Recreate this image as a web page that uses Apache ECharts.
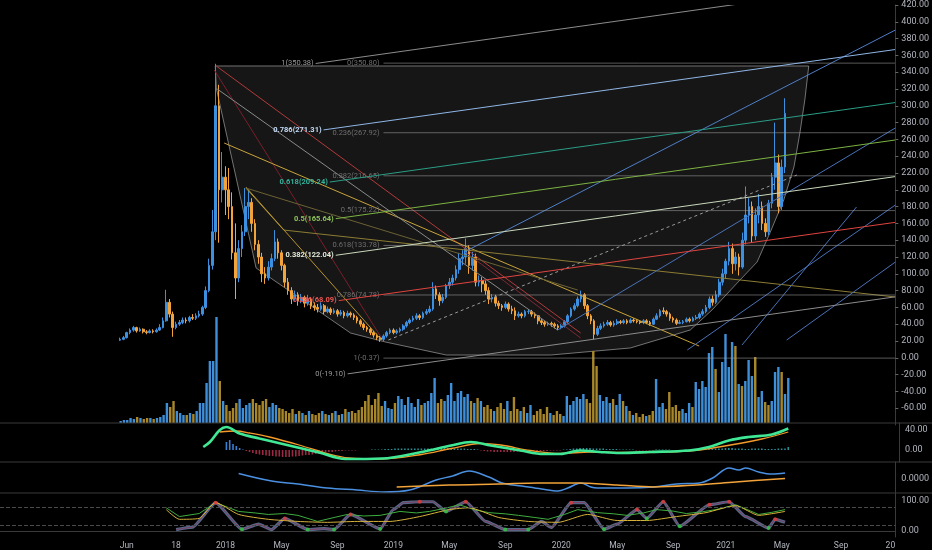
<!DOCTYPE html>
<html>
<head>
<meta charset="utf-8">
<script src="https://cdn.jsdelivr.net/npm/echarts@6/dist/echarts.min.js"></script>
<style>
  html, body { margin: 0; padding: 0; background: #000; }
  #chart { width: 932px; height: 550px; }
</style>
</head>
<body>
<div id="chart"></div>
<script>
// weekly candles; the first candle sits at slot LEAD of the time axis
const LEAD = 36;
const SLOTS = 272;
const firstOpen = 21;

const closes = [
  22,24,30,33,36,32,34,31,30,32,
  31,33,36,44,66,52,36,40,42,45,
  44,48,47,50,52,60,80,110,150,300,
  200,215,200,180,125,95,130,150,180,185,
  160,135,120,100,95,108,118,138,125,110,
  90,80,70,75,68,72,65,70,62,60,
  58,62,55,58,54,56,52,54,50,53,
  51,48,44,40,36,34,30,27,24,22,
  26,30,33,30,32,34,38,42,45,47,
  50,48,53,55,58,82,75,68,72,86,
  90,95,105,118,120,130,110,120,90,92,
  88,80,70,72,65,62,60,64,58,56,
  50,52,50,55,55,52,50,44,42,40,
  41,40,38,36,38,43,50,58,62,70,
  75,62,50,44,28,35,38,40,42,39,
  41,43,42,44,42,45,44,43,42,44,
  42,40,46,50,56,55,52,47,45,41,
  42,43,46,44,47,48,52,55,60,70,
  66,75,90,100,115,130,112,120,108,140,
  170,180,145,170,180,160,150,184,215,232,
  180,227,291
];
const highs = [
  24,26,31,35,38,37,36,35,33,34,
  34,35,40,48,81,70,55,43,45,48,
  48,50,52,53,56,62,85,118,176,350,
  325,245,228,226,197,160,140,158,202,200,
  190,165,140,125,108,115,124,152,142,128,
  112,95,84,80,78,76,74,75,72,66,
  64,66,64,61,60,59,58,57,56,56,
  55,53,50,46,42,38,36,32,29,26,
  28,32,35,35,34,36,40,44,47,50,
  53,52,55,58,62,90,86,78,76,88,
  95,99,110,125,128,142,134,126,124,98,
  96,92,84,76,75,68,64,67,66,62,
  60,55,54,57,58,57,54,51,46,44,
  43,43,42,40,40,45,52,60,65,73,
  80,77,64,52,46,38,41,43,45,44,
  44,46,45,46,46,47,47,46,45,46,
  46,44,48,53,58,60,57,54,49,47,
  45,45,48,48,49,51,54,58,63,73,
  74,80,94,106,118,138,136,126,124,149,
  204,190,186,178,195,186,166,188,220,280,
  242,236,309
];
const lows = [
  20,21,23,28,31,30,31,29,28,29,
  29,30,32,35,43,48,25,34,38,40,
  41,42,45,45,48,50,58,78,105,140,
  137,185,170,165,117,70,90,120,145,165,
  150,128,112,90,88,92,104,115,118,104,
  84,75,64,68,62,65,60,62,58,56,
  54,56,52,53,51,52,49,50,47,48,
  48,45,41,37,33,31,27,24,21,19,
  20,24,28,28,28,30,32,36,40,43,
  45,45,46,51,53,56,70,62,65,70,
  82,86,92,100,110,112,100,104,85,85,
  78,75,64,66,61,58,56,58,55,52,
  45,48,47,48,52,49,47,40,39,37,
  38,37,35,33,34,36,41,48,56,60,
  66,58,46,40,22,26,33,36,38,37,
  37,39,40,40,40,41,42,41,40,40,
  40,38,39,45,48,52,49,44,42,39,
  40,40,42,42,43,45,46,50,53,58,
  62,64,72,86,94,110,100,104,98,106,
  135,160,137,140,160,152,144,146,178,200,
  172,176,220
];
const volumes = [
  2,3,3,5,4,6,5,4,5,5,
  4,5,6,8,20,16,22,12,10,8,
  8,10,9,12,20,20,40,62,62,106,
  42,22,18,12,15,20,24,15,18,20,
  24,20,18,22,24,16,20,18,15,14,
  12,10,14,9,12,10,8,12,9,8,
  10,12,9,8,10,12,8,9,14,11,
  12,10,13,16,22,28,18,24,30,17,
  22,15,14,20,27,24,18,26,20,16,
  24,18,20,22,30,45,20,24,22,28,
  40,22,30,32,26,29,22,20,25,22,
  16,18,14,12,16,20,14,22,12,26,
  14,12,16,10,18,8,12,14,9,16,
  10,8,12,9,7,27,18,22,26,24,
  29,24,20,72,57,28,22,26,20,24,
  18,29,22,17,12,8,10,6,9,7,
  8,12,44,16,20,14,31,16,18,12,
  14,10,20,16,41,34,42,36,70,76,
  54,31,61,89,56,81,77,39,37,42,
  63,47,66,26,32,21,18,22,51,56,
  51,29,45
];

// MACD histogram, one bar per week starting at week 32
const histFirstWeek = 32;
const macdHist = [
  16,20,12,8,4,1,
  -2,-4,-6,-8,-9,-10,-11,-12,-12,-13,-13,-14,-14,
  -14,-13,-13,-12,-11,-10,-10,-9,-8,-7,-6,-5,-4,-4,-3,-2,-2,-1,
  -1,-1,-1,0,0,0,0,1,1,1,1,
  2,2,2,3,3,3,3,3,3,3,3,3,3,3,3,3,4,4,4,4,4,3,3,3,3,2,2,2,1,
  -1,-2,-3,-3,-4,-4,-4,-4,-4,-4,-4,-3,-3,-3,-3,-3,-2,-2,-2,-2,-2,-1,-1,-1,-1,
  1,1,2,3,3,4,4,4,4,3,3,3,3,2,2,2,2,
  1,1,1,1,1,-1,-1,-1,-1,-1,-1,1,1,1,1,1,-1,-1,-1,-1,1,1,1,1,1,
  2,2,2,3,3,3,3,4,4,4,3,3,3,2,2,3,3,3,3,2,2,2,2,3,3,3,6
];
const macdSlots  = [61,63,66,68,72,78,87,96,104,115,127,136,142,148,157,164,169,175,181,187,196,208,214,220,226,233,238];
const macdValues = [6,16,40,46,33,23,9,-5,-18,-17,-4,9,16,9,-1,-8,-8,-1,-4,-6,-4,-1,6,19,26,31,43];
const macdRisingSpans = [[66,70],[104,142],[172,178],[188,208],[213,238]];
const signalSlots  = [66,71,75,81,90,99,105,115,127,136,145,151,160,169,178,187,208,217,230,238];
const signalValues = [36,38,34,26,10,-8,-16,-18,-9,3,13,10,-1,-7,-4,-5,-2,6,22,36];

// middle pane
const midBlueSlots  = [72,82,90,99,108,116,124,132,137,142,148,152,158,164,169,172,176,179,181,190,198,205,212,216,221,224,226,230,234,238];
const midBlueValues = [0.0056,-0.002,-0.005,-0.009,-0.011,-0.013,-0.011,-0.001,0.003,0.008,0.002,-0.004,-0.007,-0.010,-0.012,-0.009,-0.004,-0.008,-0.009,-0.009,-0.008,-0.005,-0.004,0.001,0.011,0.009,0.011,0.007,0.005,0.006];
const midOrangeSlots  = [120,136,151,163,175,187,198,211,223,238];
const midOrangeValues = [-0.008,-0.006,-0.005,-0.004,-0.004,-0.006,-0.008,-0.006,-0.003,0.0005];

// stochastic pane
const stochSlots  = [53,58,65,73,78,82,86,93,98,101,106,115,119,122,127,131,135,141,147,153,160,164,167,173,177,183,187,193,196,201,206,215,221,226,233,235,238];
const stochValues = [5,13,94,6,23,5,42,5,8,5,55,7,71,94,97,97,65,97,32,5,5,32,12,94,94,6,23,71,42,97,16,87,97,48,10,39,29];
const rsiSlots  = [50,54,60,65,72,77,81,86,90,96,101,105,110,115,121,126,130,135,139,144,148,153,157,162,166,171,175,181,186,190,195,199,204,208,213,217,223,230,234,238];
const rsiValues = [77,48,58,94,65,60,55,58,52,32,45,55,50,52,65,60,65,76,87,70,61,57,52,45,39,55,71,61,57,52,60,71,66,58,64,71,87,55,62,71];
const rsiMaSlots  = [50,54,60,65,72,81,90,99,108,118,127,136,142,151,160,169,178,187,196,205,214,223,230,238];
const rsiMaValues = [71,39,42,94,55,39,32,29,32,32,48,71,77,45,32,29,55,35,35,48,61,84,52,65];
const crossDownSlots  = [65,86,106,127,141,173,193,201,215,221,235];
const crossDownValues = [94,42,55,97,97,94,71,97,87,97,39];
const crossUpSlots  = [73,93,101,115,135,153,160,183,196,206,233];
const crossUpValues = [6,5,5,7,65,5,5,6,42,16,10];
const stochBands = [80, 20];

// tick labels
const tickSlots = [38,53,68,85,102,119,136,153,170,187,204,220,237,255,270];
const tickTexts = ['Jun','18','2018','May','Sep','2019','May','Sep','2020','May','Sep','2021','May','Sep','20'];
const macdTicks = [0, 40];
const midTicks = [0];
const stochTicks = [0, 100];

// drawings on the price pane, in [slot, price]
const arcOutline = [
  [64.9,347.4],[245.2,347.4],[244.0,306.9],[242.5,267.6],[240.7,227.1],[237.6,187.9],
  [233.4,148.6],[229.5,114.0],[224.3,92.6],[215.8,56.9],[209.2,33.1],[191.0,11.7],
  [166.8,3.3],[135.1,3.3],[116.6,18.8],[106.0,29.5],[77.3,106.9],[65.2,321.2]
];
const retraceLevels = [350.80, 267.92, 216.65, 175.22, 133.78, 74.78, -0.37];
const retraceTags = ['0(350.80)','0.236(267.92)','0.382(216.65)','0.5(175.22)','0.618(133.78)','0.786(74.78)','1(-0.37)'];
const retraceFrom = 116;
const channelLevels = [350.38, 271.31, 209.24, 165.64, 122.04, 68.09, -19.10];
const channelTags = ['1(350.38)','0.786(271.31)','0.618(209.24)','0.5(165.64)','0.382(122.04)','0.236(68.09)','0(-19.10)'];
const channelFrom = [95.4, 97.8, 99.7, 101.5, 101.5, 102.4, 105.1];
const channelRise = 0.551; // price per week
const rightSlot = 271.4;
const trendLines = [
  [65.2,347.4,175.9,29.5],
  [64.6,342.6,115.4,23.6],
  [140.8,125.9,175.9,23.6],
  [67.6,255.7,211.9,14.0],
  [74.2,202.1,85.7,152.1],
  [85.7,152.1,271.5,72.4],
  [74.2,203.3,115.4,21.2],
  [74.2,202.1,175.0,80.7],
  [65.5,320.0,168.9,33.1],
  [117.5,21.2,241.6,217.6],
  [141.7,128.3,271.5,390.2],
  [168.9,33.1,271.5,273.6],
  [208.3,9.3,271.5,181.9],
  [224.9,15.2,259.7,179.5],
  [238.5,21.2,271.5,114.0]
];
const trendColors = ['#b23a3a','#7a1f2c','#7a2a36','#c9a43a','#a08c3a','#8c7d34','#b8942c','#6b6234',
  '#8a8a8a','#9a9a9a','#4f7fc8','#4a72b8','#4a72b8','#4a72b8','#4a72b8'];
const trendDashed = [false,false,false,false,false,false,false,false,false,true,false,false,false,false,false];

const channelColors = ['#8c8c8c','#8fb6e6','#2a9d86','#7cb342','#c8d8bc','#e0443f','#8c8c8c'];
const channelTextColors = ['#9a9a9a','#c4dcf7','#33b39a','#8fc45a','#dfe9d8','#e85450','#9a9a9a'];

const UP = '#3d8fdf', DOWN = '#f2a33a';
const VOL_UP = '#3f8fd8', VOL_DOWN = '#a8862a';
const AXIS_TEXT = '#b2b5be';
const FONT = 'Roboto';

const chart = echarts.init(document.getElementById('chart'));
const slots = Array.from({ length: SLOTS }, (_, k) => String(k));

const candleRows = closes.map((c, i) => {
  const o = i === 0 ? firstOpen : closes[i - 1];
  return [i + LEAD, o, c, lows[i], highs[i]];
});
const volumeRows = volumes.map((v, i) => ({
  value: [i + LEAD, v],
  itemStyle: { color: candleRows[i][2] >= candleRows[i][1] ? VOL_UP : VOL_DOWN }
}));
const histRows = macdHist.map((v, j) => ({
  value: [j + histFirstWeek + LEAD, v],
  itemStyle: { color: v >= 0 ? (j < 8 ? '#3b7fd0' : '#2a8f95') : '#9a2a44' }
}));
const pairs = (xs, ys) => xs.map((x, i) => [x, ys[i]]);

// fractional slot -> pixel, interpolated from the axis' own mapping
function at(api, k, p) {
  const k0 = Math.floor(k);
  const a = api.coord([k0, p]);
  const b = api.coord([k0 + 1, p]);
  return [a[0] + (b[0] - a[0]) * (k - k0), a[1]];
}

function renderArc(params, api) {
  return {
    type: 'polygon',
    shape: { points: arcOutline.map(pt => at(api, pt[0], pt[1])) },
    style: { fill: 'rgba(150,150,150,0.15)', stroke: 'rgba(200,200,200,0.55)', lineWidth: 1 }
  };
}

function renderDrawings(params, api) {
  const kids = [];
  const seg = (k1, p1, k2, p2, stroke, dash, w) => {
    const a = at(api, k1, p1), b = at(api, k2, p2);
    kids.push({ type: 'line', shape: { x1: a[0], y1: a[1], x2: b[0], y2: b[1] },
      style: { stroke: stroke, lineWidth: w || 1, lineDash: dash ? [3, 3] : null } });
  };
  const tag = (k, p, text, fill, bold) => {
    const a = at(api, k, p);
    kids.push({ type: 'text', style: { x: a[0] - 2, y: a[1], text: text, fill: fill,
      font: (bold ? 'bold ' : '') + '7.5px ' + FONT, align: 'right', verticalAlign: 'middle' } });
  };
  trendLines.forEach((t, i) => seg(t[0], t[1], t[2], t[3], trendColors[i], trendDashed[i], 1));
  retraceLevels.forEach((lv, i) => {
    seg(retraceFrom, lv, rightSlot, lv, 'rgba(160,160,160,0.55)', false, 1);
    tag(retraceFrom - 0.6, lv, retraceTags[i], '#6f6f6f', false);
  });
  channelLevels.forEach((lv, i) => {
    const k0 = channelFrom[i];
    seg(k0, lv, rightSlot, lv + channelRise * (rightSlot - k0), channelColors[i], false, 1);
    tag(k0, lv, channelTags[i], channelTextColors[i], i > 0 && i < 6);
  });
  return { type: 'group', children: kids };
}

function slotAxis(gridIndex, showLabels) {
  return {
    type: 'category', gridIndex: gridIndex, data: slots, boundaryGap: true,
    axisLine: { show: showLabels, lineStyle: { color: '#3a3a3a' } },
    axisTick: { show: false },
    splitLine: { show: false },
    axisLabel: showLabels ? {
      interval: (idx) => tickSlots.indexOf(idx) >= 0,
      formatter: (val, idx) => { const j = tickSlots.indexOf(idx); return j >= 0 ? tickTexts[j] : ''; },
      color: AXIS_TEXT, fontSize: 8.5, fontFamily: FONT, margin: 4
    } : { show: false }
  };
}

function paneAxis(gridIndex, min, max, split, shown, digits) {
  return {
    type: 'value', gridIndex: gridIndex, position: 'right', min: min, max: max, splitNumber: split,
    axisLine: { show: true, lineStyle: { color: '#3a3a3a' } },
    axisTick: { show: false },
    splitLine: { show: false },
    axisLabel: {
      showMinLabel: false, showMaxLabel: false,
      formatter: v => shown.some(t => Math.abs(t - v) < 1e-9) ? v.toFixed(digits) : '',
      color: AXIS_TEXT, fontSize: 9, fontFamily: FONT, margin: 6
    }
  };
}

const line = (xi, yi, data, color, width, z) => ({
  type: 'line', xAxisIndex: xi, yAxisIndex: yi, data: data, smooth: 0.35,
  showSymbol: false, silent: true, z: z || 2, clip: false,
  lineStyle: { color: color, width: width }
});

const option = {
  backgroundColor: '#000',
  animation: false,
  grid: [
    { left: 0, right: 33, top: 5, height: 420 },
    { left: 0, right: 33, top: 317, height: 106 },
    { left: 0, right: 33, top: 423, height: 39 },
    { left: 0, right: 33, top: 462, height: 31 },
    { left: 0, right: 33, top: 493, height: 45 }
  ],
  xAxis: [slotAxis(0, false), slotAxis(1, false), slotAxis(2, false), slotAxis(3, false), slotAxis(4, true)],
  yAxis: [
    {
      type: 'value', gridIndex: 0, position: 'right', min: -80, max: 420, interval: 20,
      axisLine: { show: true, lineStyle: { color: '#3a3a3a' } },
      axisTick: { show: true, length: 3, lineStyle: { color: '#666' } },
      splitLine: { show: false },
      axisLabel: { showMinLabel: false, formatter: v => v.toFixed(2), color: AXIS_TEXT, fontSize: 9, fontFamily: FONT, margin: 6 }
    },
    { type: 'value', gridIndex: 1, min: 0, max: 106, show: false },
    paneAxis(2, -24, 54, 4, macdTicks, 2),
    paneAxis(3, -0.014, 0.017, 3, midTicks, 4),
    paneAxis(4, -19.4, 125.8, 3, stochTicks, 2)
  ],
  visualMap: [{
    type: 'piecewise', show: false, seriesIndex: 5, dimension: 0,
    pieces: macdRisingSpans.map(s => ({ gte: s[0], lte: s[1], color: '#3fe894' })),
    outOfRange: { color: '#f6b940' }
  }],
  graphic: [423, 462, 493].map(y => ({
    type: 'line', silent: true, z: 10,
    shape: { x1: 0, y1: y, x2: 932, y2: y },
    style: { stroke: '#3a3a3a', lineWidth: 1 }
  })),
  series: [
    { type: 'custom', xAxisIndex: 0, yAxisIndex: 0, data: [[0, 0]], renderItem: renderArc, silent: true, clip: true, z: 1 },
    {
      type: 'candlestick', xAxisIndex: 0, yAxisIndex: 0, data: candleRows,
      encode: { x: 0, y: [1, 2, 3, 4] }, barWidth: 2.2, silent: true, z: 3,
      itemStyle: { color: UP, color0: DOWN, borderColor: UP, borderColor0: DOWN, borderWidth: 1 }
    },
    { type: 'custom', xAxisIndex: 0, yAxisIndex: 0, data: [[0, 0]], renderItem: renderDrawings, silent: true, clip: true, z: 4 },
    { type: 'bar', xAxisIndex: 1, yAxisIndex: 1, data: volumeRows, barWidth: 2.4, silent: true, z: 2 },
    { type: 'bar', xAxisIndex: 2, yAxisIndex: 2, data: histRows, barWidth: 1.6, silent: true, z: 1 },
    line(2, 2, pairs(macdSlots, macdValues), '#3fe894', 2.6, 3),
    line(2, 2, pairs(signalSlots, signalValues), '#f39a2a', 1.3, 2),
    line(3, 3, pairs(midBlueSlots, midBlueValues), '#4a8fe0', 1.5),
    line(3, 3, pairs(midOrangeSlots, midOrangeValues), '#f2a33a', 1.5),
    Object.assign(line(4, 4, pairs(stochSlots, stochValues), '#56698a', 3.2, 2), {
      smooth: 0.15, smoothMonotone: 'x',
      markLine: {
        silent: true, symbol: 'none', label: { show: false },
        lineStyle: { color: '#4a4a4a', type: 'dashed', width: 1 },
        data: stochBands.map(b => ({ yAxis: b }))
      }
    }),
    Object.assign(line(4, 4, pairs(stochSlots, stochValues), '#7e3c60', 1, 3), { smooth: 0.15, smoothMonotone: 'x' }),
    Object.assign(line(4, 4, pairs(rsiSlots, rsiValues), '#3fae3f', 1, 3), { smooth: false }),
    Object.assign(line(4, 4, pairs(rsiMaSlots, rsiMaValues), '#d6b23a', 1, 3), { smooth: 0.2 }),
    { type: 'scatter', xAxisIndex: 4, yAxisIndex: 4, data: pairs(crossDownSlots, crossDownValues), symbolSize: 4, itemStyle: { color: '#e53935' }, silent: true, z: 5 },
    { type: 'scatter', xAxisIndex: 4, yAxisIndex: 4, data: pairs(crossUpSlots, crossUpValues), symbolSize: 4, itemStyle: { color: '#2ecc40' }, silent: true, z: 5 }
  ]
};

chart.setOption(option);
</script>
</body>
</html>
